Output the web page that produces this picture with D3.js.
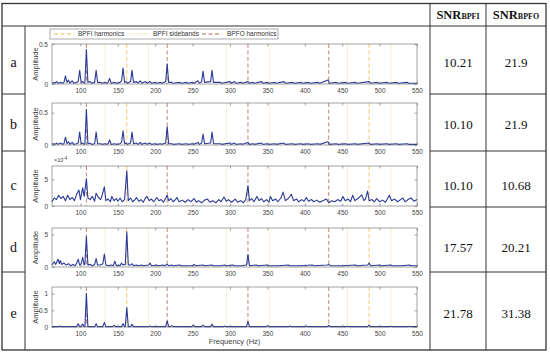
<!DOCTYPE html>
<html>
<head>
<meta charset="utf-8">
<script src="https://cdn.jsdelivr.net/npm/d3@7"></script>
<style>
  body { margin: 0; background: #fff; }
  svg { display: block; }
</style>
</head>
<body>
<div id="viz"></div>
<script>
const rowLabels = ["a", "b", "c", "d", "e"];
const snrBPFI = ["10.21", "10.10", "10.10", "17.57", "21.78"];
const snrBPFO = ["21.9", "21.9", "10.68", "20.21", "31.38"];

const freqTicks = [100, 150, 200, 250, 300, 350, 400, 450, 500, 550];
const yMaxes = [0.5, 0.65, 7.5, 6, 1.2];
const yTickSets = [[0, 0.5], [0, 0.5], [0, 5], [0, 5], [0, 0.5, 1]];

const bpfiHarmonics = [162, 486];
const bpfiSidebands = [133, 191, 295, 353, 457, 515];
const bpfoHarmonics = [108, 216, 324, 432];

// spectra, [frequency Hz, amplitude]
const specA = [[62,0.01],[64,0.02],[66,0.01],[68,0.03],[70,0.01],[74,0.02],[76,0.01],[78,0.02],[80,0.10],[82,0.02],[84,0.05],[86,0.01],[89,0.04],[91,0.01],[95,0.02],[97,0.03],[99,0.17],[101,0.02],[103,0.03],[105,0.01],[106,0.02],[108,0.43],[110,0.02],[113,0.03],[115,0.01],[119,0.02],[121,0.17],[123,0.02],[127,0.02],[129,0.01],[133,0.02],[135,0.01],[137,0.02],[139,0.07],[141,0.01],[146,0.02],[148,0.01],[153,0.02],[155,0.04],[157,0.20],[159,0.02],[161,0.03],[163,0.01],[167,0.03],[169,0.17],[171,0.02],[175,0.03],[177,0.01],[180,0.04],[182,0.01],[187,0.03],[189,0.01],[193,0.03],[195,0.01],[200,0.02],[202,0.01],[207,0.02],[209,0.01],[214,0.03],[216,0.25],[218,0.02],[222,0.02],[224,0.01],[233,0.02],[235,0.01],[242,0.02],[244,0.01],[250,0.02],[252,0.01],[257,0.04],[259,0.01],[262,0.03],[264,0.16],[266,0.02],[274,0.03],[276,0.17],[278,0.02],[287,0.02],[289,0.01],[300,0.03],[302,0.01],[306,0.03],[308,0.01],[315,0.02],[317,0.01],[324,0.03],[326,0.01],[331,0.02],[333,0.01],[342,0.03],[344,0.01],[350,0.02],[352,0.01],[360,0.02],[362,0.01],[372,0.03],[374,0.01],[384,0.02],[386,0.01],[395,0.02],[397,0.01],[405,0.02],[407,0.01],[418,0.02],[420,0.01],[431,0.05],[433,0.01],[442,0.02],[444,0.01],[455,0.02],[457,0.01],[468,0.02],[470,0.01],[486,0.03],[488,0.01],[497,0.02],[499,0.01],[510,0.02],[512,0.01],[523,0.02],[525,0.01],[537,0.02],[539,0.01],[550,0.01]];

const specB = [[62,0.01],[64,0.02],[66,0.01],[68,0.03],[70,0.01],[74,0.03],[76,0.01],[78,0.02],[80,0.12],[82,0.02],[84,0.05],[86,0.01],[89,0.04],[91,0.01],[95,0.02],[97,0.03],[99,0.20],[101,0.02],[103,0.03],[105,0.01],[106,0.02],[108,0.55],[110,0.02],[113,0.03],[115,0.01],[119,0.02],[121,0.20],[123,0.02],[127,0.02],[129,0.01],[133,0.02],[135,0.01],[137,0.02],[139,0.08],[141,0.01],[146,0.02],[148,0.01],[153,0.02],[155,0.04],[157,0.22],[159,0.02],[161,0.03],[163,0.01],[167,0.03],[169,0.20],[171,0.02],[175,0.03],[177,0.01],[180,0.04],[182,0.01],[187,0.03],[189,0.01],[193,0.03],[195,0.01],[200,0.02],[202,0.01],[207,0.02],[209,0.01],[214,0.03],[216,0.28],[218,0.02],[222,0.02],[224,0.01],[233,0.02],[235,0.01],[242,0.02],[244,0.01],[250,0.02],[252,0.01],[257,0.04],[259,0.01],[262,0.03],[264,0.17],[266,0.02],[274,0.03],[276,0.20],[278,0.02],[287,0.02],[289,0.01],[300,0.03],[302,0.01],[306,0.03],[308,0.01],[315,0.02],[317,0.01],[324,0.04],[326,0.01],[331,0.02],[333,0.01],[342,0.03],[344,0.01],[350,0.02],[352,0.01],[360,0.02],[362,0.01],[372,0.03],[374,0.01],[384,0.02],[386,0.01],[395,0.02],[397,0.01],[405,0.02],[407,0.01],[418,0.02],[420,0.01],[431,0.05],[433,0.01],[442,0.02],[444,0.01],[455,0.02],[457,0.01],[468,0.02],[470,0.01],[486,0.03],[488,0.01],[497,0.02],[499,0.01],[510,0.02],[512,0.01],[523,0.02],[525,0.01],[537,0.02],[539,0.01],[550,0.01]];

const specC = [[62,0.8],[65,1.5],[68,1.2],[71,2.0],[74,1.4],[77,1.8],[80,1.0],[83,2.0],[86,1.2],[89,1.6],[92,1.0],[95,2.2],[98,3.0],[100,1.2],[103,3.4],[105,1.8],[108,5.1],[110,1.5],[113,1.2],[116,1.8],[119,0.9],[121,2.4],[124,1.6],[127,1.2],[129,2.0],[132,3.6],[134,1.0],[137,1.3],[140,0.8],[142,1.8],[145,1.0],[148,1.4],[150,0.9],[153,1.5],[156,0.8],[159,1.2],[162,6.6],[164,1.0],[167,1.5],[170,0.8],[173,1.2],[175,1.6],[178,0.9],[181,1.2],[184,0.7],[187,1.5],[189,1.8],[192,1.0],[195,1.3],[198,0.8],[202,1.6],[205,1.0],[208,1.2],[211,0.7],[214,1.5],[216,2.0],[218,1.0],[221,1.4],[224,0.8],[227,1.2],[229,1.6],[232,0.8],[236,1.1],[240,0.7],[244,1.2],[248,0.8],[252,1.4],[255,0.7],[258,1.0],[262,0.6],[266,1.1],[270,1.3],[273,0.7],[277,1.0],[281,0.6],[285,1.2],[288,0.8],[292,1.7],[295,0.9],[298,1.2],[302,0.7],[307,1.3],[310,0.7],[314,1.0],[318,0.6],[321,1.2],[324,3.8],[326,1.0],[329,1.4],[332,0.8],[336,1.8],[339,1.0],[342,1.4],[345,0.8],[349,1.2],[352,0.7],[354,1.8],[357,1.0],[361,1.3],[364,0.8],[368,1.5],[371,2.6],[374,1.0],[378,1.4],[382,2.2],[385,1.0],[389,1.3],[392,0.8],[396,1.2],[399,0.9],[402,1.6],[405,0.9],[409,1.2],[412,0.8],[416,1.1],[420,0.7],[424,1.0],[429,1.3],[432,0.6],[436,1.0],[440,0.8],[444,1.2],[448,0.9],[451,1.8],[454,1.0],[458,1.3],[461,0.8],[464,2.0],[467,1.0],[471,1.4],[476,2.1],[479,1.0],[481,1.3],[484,2.8],[486,1.0],[490,1.2],[493,0.8],[496,1.4],[500,0.8],[504,1.1],[508,0.7],[513,2.0],[516,1.0],[520,1.3],[524,0.8],[528,1.2],[531,1.5],[534,0.8],[538,1.2],[542,1.5],[546,0.9],[550,1.2]];

const specD = [[62,0.3],[65,0.8],[67,0.4],[70,1.2],[72,0.5],[73,1.0],[75,0.4],[78,0.6],[81,0.3],[84,0.5],[87,0.2],[90,0.4],[93,0.2],[95,0.6],[97,1.2],[99,0.3],[101,0.5],[103,1.5],[105,0.3],[106,0.5],[108,4.7],[110,0.3],[113,0.4],[116,0.2],[119,0.4],[121,1.3],[123,0.3],[127,0.3],[130,0.5],[132,2.0],[134,0.3],[138,0.2],[141,0.3],[144,0.2],[146,0.9],[148,0.2],[151,0.3],[153,0.2],[155,0.6],[157,0.3],[160,0.4],[162,5.4],[164,0.3],[167,0.3],[169,0.5],[171,0.2],[175,0.3],[177,0.2],[182,0.3],[184,0.2],[191,0.3],[193,0.6],[195,0.2],[202,0.3],[204,0.2],[210,0.3],[212,0.2],[216,0.4],[218,0.2],[222,0.3],[224,0.2],[233,0.3],[235,0.2],[242,0.2],[250,0.2],[252,0.4],[254,0.2],[264,0.3],[266,0.2],[276,0.3],[278,0.2],[287,0.2],[293,0.3],[295,0.2],[304,0.3],[306,0.2],[316,0.2],[322,0.3],[324,1.9],[326,0.2],[335,0.3],[337,0.2],[350,0.3],[352,0.2],[365,0.2],[378,0.3],[380,0.2],[395,0.2],[410,0.3],[412,0.2],[430,0.3],[432,0.4],[434,0.2],[450,0.2],[468,0.3],[470,0.2],[484,0.3],[486,0.6],[488,0.2],[500,0.3],[502,0.2],[515,0.3],[517,0.2],[530,0.2],[540,0.3],[542,0.2],[550,0.2]];

const specE = [[62,0.01],[72,0.01],[73,0.03],[74,0.01],[95,0.01],[97,0.10],[99,0.01],[101,0.01],[103,0.09],[105,0.01],[106,0.01],[108,1.0],[110,0.01],[119,0.01],[121,0.10],[123,0.01],[130,0.01],[132,0.14],[134,0.01],[143,0.01],[145,0.05],[147,0.01],[155,0.01],[157,0.10],[159,0.01],[160,0.02],[162,0.58],[164,0.01],[167,0.01],[169,0.08],[171,0.01],[191,0.01],[193,0.03],[195,0.01],[214,0.01],[216,0.18],[218,0.01],[220,0.01],[222,0.04],[224,0.01],[249,0.01],[251,0.06],[253,0.01],[262,0.01],[264,0.06],[266,0.01],[274,0.01],[276,0.08],[278,0.01],[291,0.01],[293,0.03],[295,0.01],[322,0.01],[324,0.16],[326,0.01],[348,0.01],[350,0.04],[352,0.01],[378,0.01],[380,0.03],[382,0.01],[400,0.01],[402,0.03],[404,0.01],[430,0.01],[432,0.05],[434,0.01],[455,0.01],[457,0.02],[459,0.01],[484,0.01],[486,0.06],[488,0.01],[513,0.01],[515,0.02],[517,0.01],[538,0.01],[540,0.02],[542,0.01],[550,0.01]];

const spectra = [specA, specB, specC, specD, specE];

const W = 550, H = 354;
const tableLeft = 2, tableRight = 546, tableTop = 3.5, tableBottom = 350;
const headerBottom = 26;
const rowBounds = [26, 94, 151, 207, 272, 350];
const labelCol = 25, col1 = 430, col2 = 486;
const rowCenters = [62, 124, 185, 247, 313];
// plot area of each panel (top, bottom)
const panels = [[44, 84], [103, 145], [166, 206], [228, 267], [287, 327]];
const plotLeft = 52, plotRight = 417;

const serif = "'Liberation Serif', 'DejaVu Serif', serif";
const sans = "'Liberation Sans', Arial, sans-serif";

const svg = d3.select("#viz")
  .append("svg")
    .attr("width", W)
    .attr("height", H);

const x = d3.scaleLinear()
  .domain([62, 550])
  .range([plotLeft, plotRight]);

const lineColor = "#2a3896";
const harmColor = "#ecbd4a";
const sideColor = "#f6ecc6";
const bpfoColor = "#b36a48";
const axisColor = "#666";
const textColor = "#444";

panels.forEach((p, i) => {
  const y = d3.scaleLinear()
    .domain([0, yMaxes[i]])
    .range([p[1], p[0]]);

  const g = svg.append("g");

  // reference lines
  bpfiSidebands.forEach(f => {
    g.append("line")
      .attr("x1", x(f)).attr("x2", x(f))
      .attr("y1", p[0]).attr("y2", p[1])
      .attr("stroke", sideColor)
      .attr("stroke-width", 0.8);
  });
  bpfiHarmonics.forEach(f => {
    g.append("line")
      .attr("x1", x(f)).attr("x2", x(f))
      .attr("y1", p[0]).attr("y2", p[1])
      .attr("stroke", harmColor)
      .attr("stroke-width", 0.8)
      .attr("stroke-dasharray", "4,2.5");
  });
  bpfoHarmonics.forEach(f => {
    g.append("line")
      .attr("x1", x(f)).attr("x2", x(f))
      .attr("y1", p[0]).attr("y2", p[1])
      .attr("stroke", bpfoColor)
      .attr("stroke-width", 0.8)
      .attr("stroke-dasharray", "4,2.5");
  });

  // spectrum
  const line = d3.line()
    .x(d => x(d[0]))
    .y(d => y(d[1]));

  g.append("path")
    .datum(spectra[i])
    .attr("d", line)
    .attr("fill", "none")
    .attr("stroke", lineColor)
    .attr("stroke-width", 1.1)
    .attr("stroke-linejoin", "round");

  // box
  g.append("rect")
    .attr("x", plotLeft)
    .attr("y", p[0])
    .attr("width", plotRight - plotLeft)
    .attr("height", p[1] - p[0])
    .attr("fill", "none")
    .attr("stroke", axisColor)
    .attr("stroke-width", 0.6);

  // x axis ticks inside, labels below
  const xAxis = d3.axisBottom(x).tickValues(freqTicks).tickSize(-2.5).tickPadding(4);
  const xg = g.append("g")
    .attr("transform", `translate(0,${p[1]})`)
    .call(xAxis);
  xg.select(".domain").remove();
  xg.selectAll("line").attr("stroke", axisColor).attr("stroke-width", 0.6);
  xg.selectAll("text")
    .attr("fill", textColor)
    .style("font-family", sans)
    .style("font-size", "6.5px");

  g.append("g")
    .attr("transform", `translate(0,${p[0]})`)
    .call(d3.axisTop(x).tickValues(freqTicks).tickSize(-2.5).tickFormat(""))
    .call(s => s.select(".domain").remove())
    .selectAll("line").attr("stroke", axisColor).attr("stroke-width", 0.6);

  // y axis
  const yg = g.append("g")
    .attr("transform", `translate(${plotLeft},0)`)
    .call(d3.axisLeft(y).tickValues(yTickSets[i]).tickSize(-2.5).tickPadding(4).tickFormat(d3.format("")));
  yg.select(".domain").remove();
  yg.selectAll("line").attr("stroke", axisColor).attr("stroke-width", 0.6);
  yg.selectAll("text")
    .attr("fill", textColor)
    .style("font-family", sans)
    .style("font-size", "6.5px");

  g.append("g")
    .attr("transform", `translate(${plotRight},0)`)
    .call(d3.axisRight(y).tickValues(yTickSets[i]).tickSize(-2.5).tickFormat(""))
    .call(s => s.select(".domain").remove())
    .selectAll("line").attr("stroke", axisColor).attr("stroke-width", 0.6);

  g.append("text")
    .attr("transform", `translate(38,${(p[0] + p[1]) / 2}) rotate(-90)`)
    .attr("text-anchor", "middle")
    .attr("fill", textColor)
    .style("font-family", sans)
    .style("font-size", "7.5px")
    .text("Amplitude");

  if (i === 2) {
    const ex = g.append("text")
      .attr("x", plotLeft + 2)
      .attr("y", p[0] - 4)
      .attr("fill", textColor)
      .style("font-family", sans)
      .style("font-size", "5.5px")
      .text("×10");
    ex.append("tspan")
      .attr("dy", -2.5)
      .style("font-size", "4.5px")
      .text("-4");
  }
});

svg.append("text")
  .attr("x", (plotLeft + plotRight) / 2)
  .attr("y", 344)
  .attr("text-anchor", "middle")
  .attr("fill", textColor)
  .style("font-family", sans)
  .style("font-size", "7.5px")
  .text("Frequency (Hz)");

// legend above panel a
const legend = svg.append("g");
legend.append("rect")
  .attr("x", 50).attr("y", 29)
  .attr("width", 228).attr("height", 10)
  .attr("fill", "#fff")
  .attr("stroke", "#777")
  .attr("stroke-width", 0.6);

const legendItems = [
  {label: "BPFI harmonics", color: harmColor, dash: "4,2.5", x0: 54, x1: 73, tx: 78},
  {label: "BPFI sidebands", color: sideColor, dash: null, x0: 129, x1: 148, tx: 153},
  {label: "BPFO harmonics", color: bpfoColor, dash: "4,2.5", x0: 202, x1: 222, tx: 227}
];
legendItems.forEach(d => {
  legend.append("line")
    .attr("x1", d.x0).attr("x2", d.x1)
    .attr("y1", 34).attr("y2", 34)
    .attr("stroke", d.color)
    .attr("stroke-width", 1)
    .attr("stroke-dasharray", d.dash);
  legend.append("text")
    .attr("x", d.tx)
    .attr("y", 36.3)
    .attr("fill", "#333")
    .style("font-family", sans)
    .style("font-size", "6.5px")
    .text(d.label);
});

// table grid
const grid = svg.append("g")
  .attr("stroke", "#333")
  .attr("fill", "none");

grid.append("rect")
  .attr("x", tableLeft).attr("y", tableTop)
  .attr("width", tableRight - tableLeft)
  .attr("height", tableBottom - tableTop)
  .attr("stroke-width", 1.3);

grid.append("line")
  .attr("x1", tableLeft).attr("x2", tableRight)
  .attr("y1", headerBottom).attr("y2", headerBottom)
  .attr("stroke-width", 1);

[col1, col2].forEach(cx => {
  grid.append("line")
    .attr("x1", cx).attr("x2", cx)
    .attr("y1", tableTop).attr("y2", tableBottom)
    .attr("stroke-width", 1);
});
grid.append("line")
  .attr("x1", labelCol).attr("x2", labelCol)
  .attr("y1", headerBottom).attr("y2", tableBottom)
  .attr("stroke-width", 1);

rowBounds.slice(1, -1).forEach(ry => {
  grid.append("line")
    .attr("x1", tableLeft).attr("x2", labelCol)
    .attr("y1", ry).attr("y2", ry)
    .attr("stroke-width", 1);
  grid.append("line")
    .attr("x1", col1).attr("x2", tableRight)
    .attr("y1", ry).attr("y2", ry)
    .attr("stroke-width", 1);
});

// header
[["BPFI", (col1 + col2) / 2], ["BPFO", (col2 + tableRight) / 2]].forEach(h => {
  const t = svg.append("text")
    .attr("x", h[1])
    .attr("y", 19)
    .attr("text-anchor", "middle")
    .attr("fill", "#111")
    .style("font-family", serif)
    .style("font-weight", "bold")
    .style("font-size", "12.5px")
    .text("SNR");
  t.append("tspan")
    .style("font-size", "8px")
    .text(h[0]);
});

rowLabels.forEach((lab, i) => {
  svg.append("text")
    .attr("x", 13.5)
    .attr("y", rowCenters[i] + 4.5)
    .attr("text-anchor", "middle")
    .attr("fill", "#111")
    .style("font-family", serif)
    .style("font-size", "14px")
    .text(lab);

  svg.append("text")
    .attr("x", (col1 + col2) / 2)
    .attr("y", rowCenters[i] + 4.5)
    .attr("text-anchor", "middle")
    .attr("fill", "#111")
    .style("font-family", serif)
    .style("font-size", "13px")
    .text(snrBPFI[i]);

  svg.append("text")
    .attr("x", (col2 + tableRight) / 2)
    .attr("y", rowCenters[i] + 4.5)
    .attr("text-anchor", "middle")
    .attr("fill", "#111")
    .style("font-family", serif)
    .style("font-size", "13px")
    .text(snrBPFO[i]);
});
</script>
</body>
</html>
